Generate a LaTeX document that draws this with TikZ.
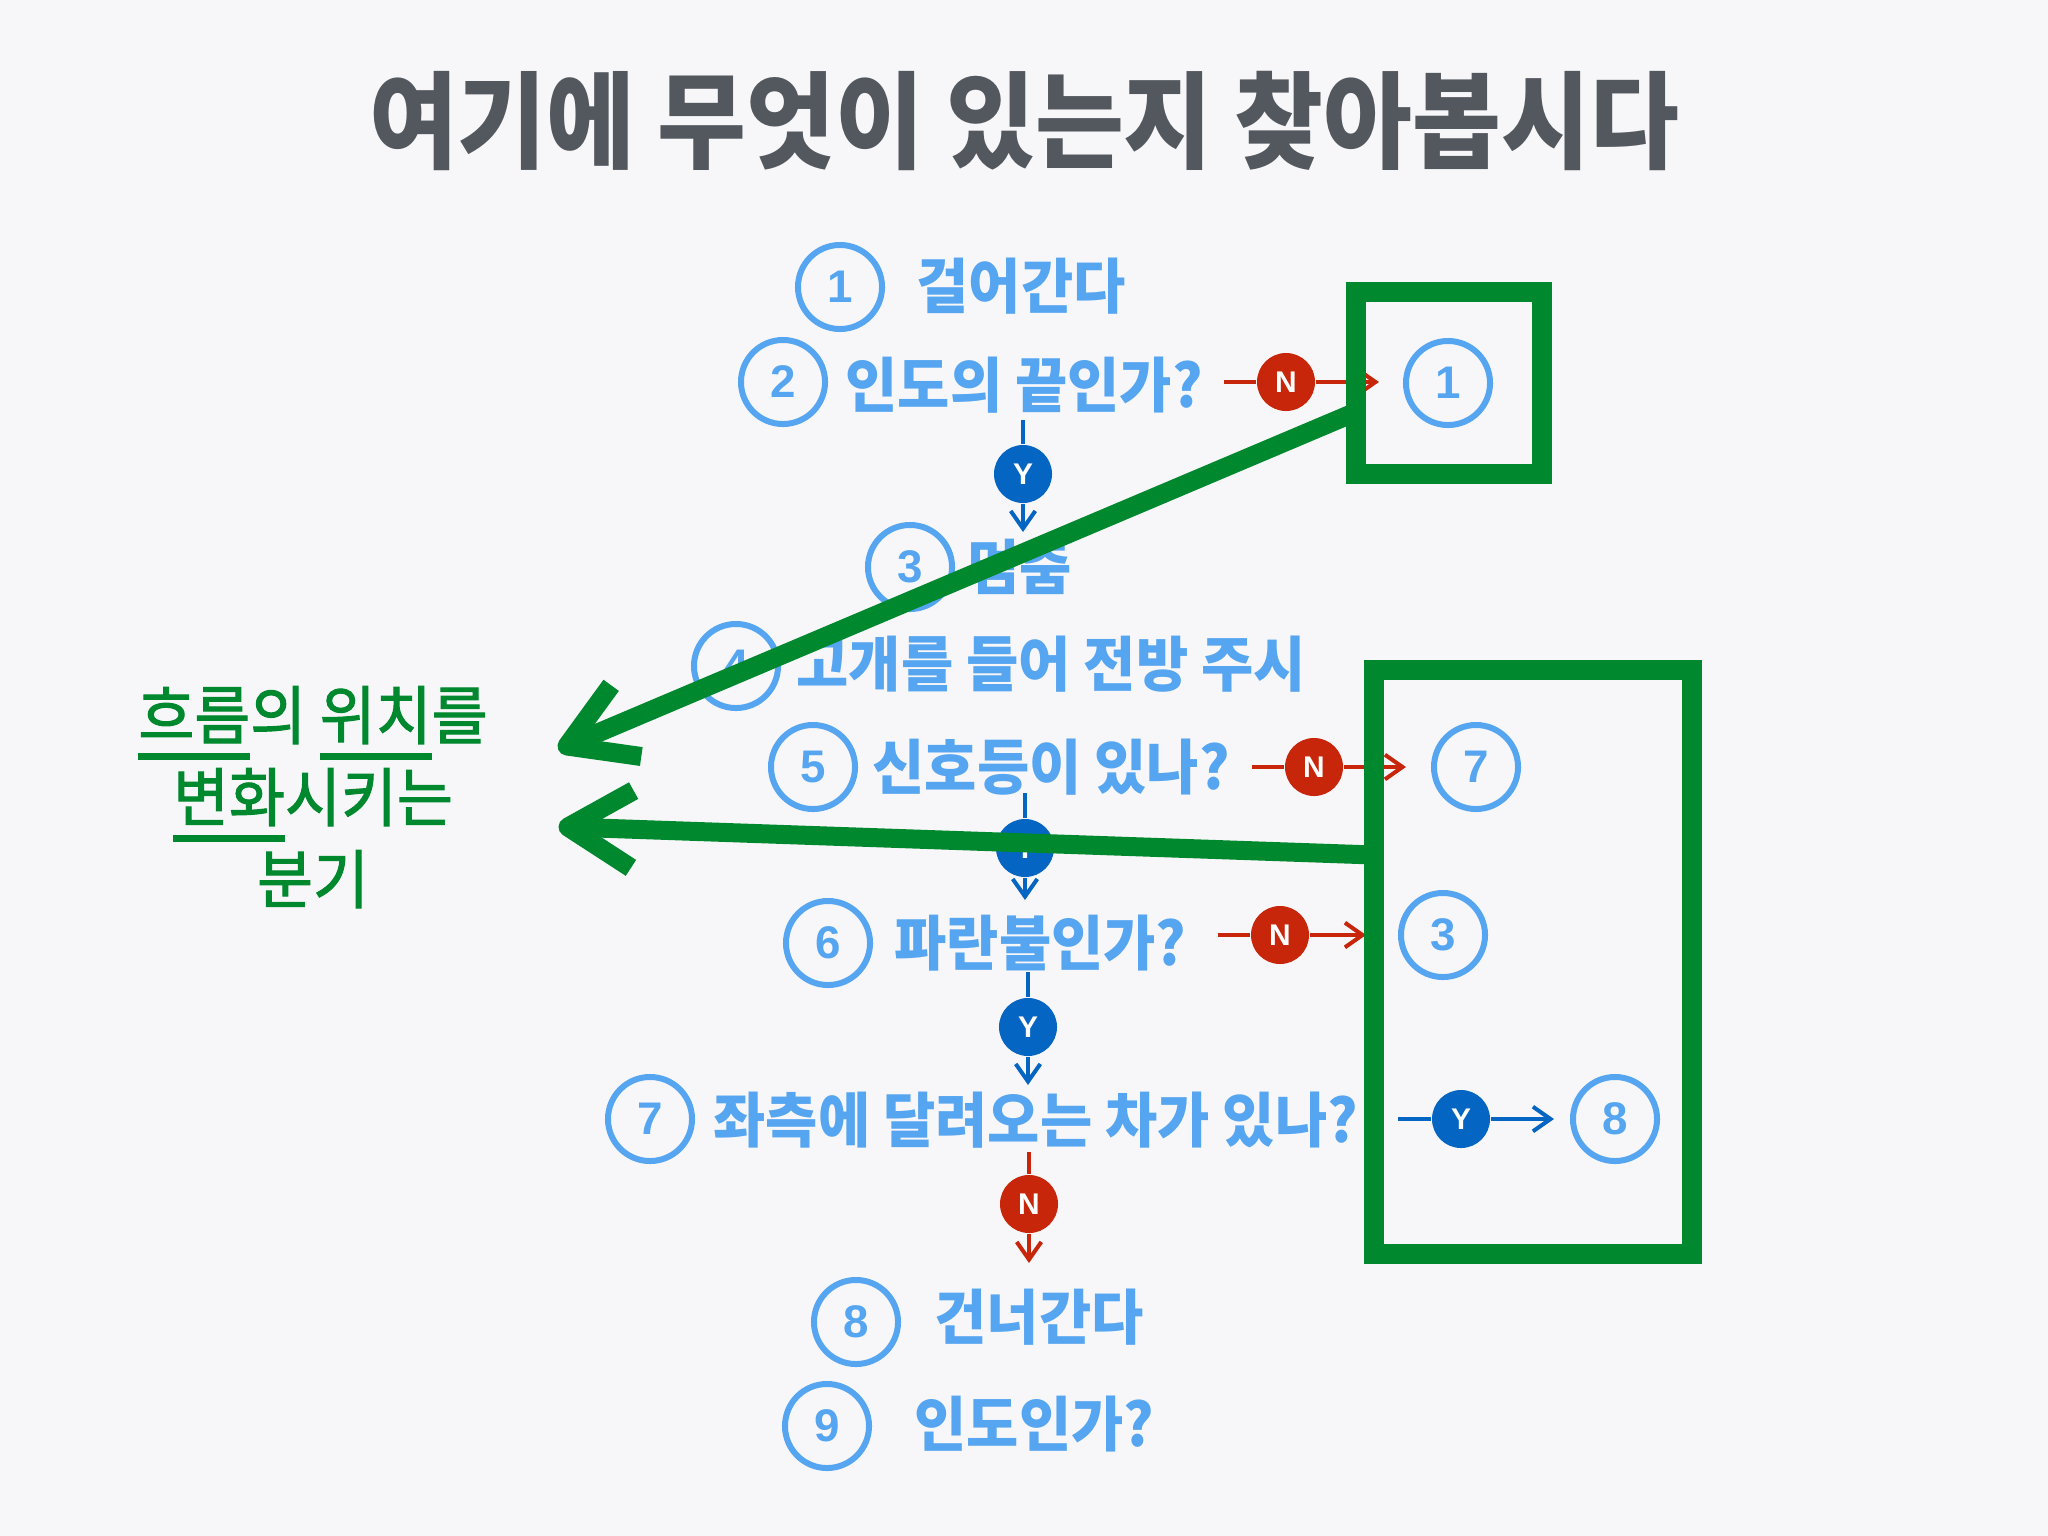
\documentclass[tikz,border=0pt]{standalone}
\usepackage{fontspec}
\usetikzlibrary{arrows.meta,calc}
\newfontfamily\krfont[FakeStretch=0.95]{Noto Sans CJK KR}
\newfontfamily\krtitle[FakeStretch=0.915]{Noto Sans CJK KR}
\newfontfamily\krgreen[FakeStretch=0.95,FakeBold=1.6]{Noto Sans CJK KR}
\newfontfamily\numfont{Liberation Sans}
\definecolor{bgc}{HTML}{F7F7F9}
\definecolor{lblue}{HTML}{56A5F0}
\definecolor{nred}{HTML}{C8260A}
\definecolor{ydark}{HTML}{0565C2}
\definecolor{ggreen}{HTML}{00882E}
\definecolor{tgray}{HTML}{53585E}
\newsavebox\gulbox
\newcommand\gul[1]{\sbox\gulbox{#1}\rlap{\rule[-0.335em]{\wd\gulbox}{0.11em}}\usebox\gulbox}
\begin{document}
\begin{tikzpicture}[x=0.01cm,y=-0.01cm,
  titlest/.style={anchor=base, inner sep=0pt, text=tgray, font=\krtitle\bfseries\fontsize{30}{34}\selectfont},
  itemst/.style={anchor=base west, inner sep=0pt, text=lblue, font=\krfont\bfseries\fontsize{17}{20}\selectfont},
  greenst/.style={anchor=base, inner sep=0pt, text=ggreen, font=\krgreen\fontsize{18.2}{22}\selectfont},
  num/.style={circle, draw=lblue, line width=0.06cm, minimum size=0.84cm, inner sep=0pt, text=lblue, font=\numfont\bfseries\fontsize{13}{14}\selectfont},
  yn/.style={circle, fill=#1, minimum size=0.58cm, inner sep=0pt, text=white, font=\numfont\bfseries\fontsize{8.5}{9}\selectfont},
  conn/.style={line width=0.04cm, draw=#1},
  tipst/.style={-{Straight Barb[length=5pt,width=7pt]}},
  gbox/.style={draw=ggreen, line width=0.2cm, rectangle, inner sep=0pt, outer sep=0pt},
  garrow/.style={draw=ggreen, line width=0.19cm},
  ghead/.style={draw=ggreen, line width=0.19cm, line join=round}
]
\fill[bgc] (0,0) rectangle (2048,1536);
\useasboundingbox (0,0) rectangle (2048,1536);

\node[titlest] (title) at (1024,160) {여기에 무엇이 있는지 찾아봅시다};

% steps
\node[num] (c1) at (840,287) {1};
\node[itemst] (t1) at (916,308) {걸어간다};
\node[num] (c2) at (783,382) {2};
\node[itemst] (t2) at (845,407) {인도의 끝인가?};
\node[num] (c3) at (910,567) {3};
\node[itemst] (t3) at (967,589) {멈춤};
\node[num] (c4) at (736,666) {4};
\node[itemst] (t4) at (796,686) {고개를 들어 전방 주시};
\node[num] (c5) at (813,767) {5};
\node[itemst] (t5) at (872,789) {신호등이 있나?};
\node[num] (c6) at (828,943) {6};
\node[itemst] (t6) at (894,965) {파란불인가?};
\node[num] (c7) at (650,1119) {7};
\node[itemst] (t7) at (713,1142) {좌측에 달려오는 차가 있나?};
\node[num] (c8) at (856,1322) {8};
\node[itemst] (t8) at (934,1339) {건너간다};
\node[num] (c9) at (827,1426) {9};
\node[itemst] (t9) at (914,1446) {인도인가?};

% targets inside boxes
\node[num] (b1) at (1448,383) {1};
\node[num] (b7) at (1476,767) {7};
\node[num] (b3) at (1443,935) {3};
\node[num] (b8) at (1615,1119) {8};

% Y / N branches
\node[yn=nred] (n2) at (1286,382) {N};
\coordinate (n2a) at (1224,382); \coordinate (n2b) at (1379,382);
\draw[conn=nred] (n2a) -- (n2);
\draw[conn=nred,tipst] (n2) -- (n2b);

\node[yn=ydark] (y2) at (1023,474) {Y};
\coordinate (y2a) at (1023,420); \coordinate (y2b) at (1023,532);
\draw[conn=ydark] (y2a) -- (y2);
\draw[conn=ydark,tipst] (y2) -- (y2b);

\node[yn=nred] (n5) at (1314,767) {N};
\coordinate (n5a) at (1252,767); \coordinate (n5b) at (1406,767);
\draw[conn=nred] (n5a) -- (n5);
\draw[conn=nred,tipst] (n5) -- (n5b);

\node[yn=ydark] (y5) at (1025,848) {Y};
\coordinate (y5a) at (1025,793); \coordinate (y5b) at (1025,900);
\draw[conn=ydark] (y5a) -- (y5);
\draw[conn=ydark,tipst] (y5) -- (y5b);

\node[yn=nred] (n6) at (1280,935) {N};
\coordinate (n6a) at (1218,935); \coordinate (n6b) at (1366,935);
\draw[conn=nred] (n6a) -- (n6);
\draw[conn=nred,tipst] (n6) -- (n6b);

\node[yn=ydark] (y6) at (1028,1027) {Y};
\coordinate (y6a) at (1028,972); \coordinate (y6b) at (1028,1085);
\draw[conn=ydark] (y6a) -- (y6);
\draw[conn=ydark,tipst] (y6) -- (y6b);

\node[yn=ydark] (y7) at (1461,1119) {Y};
\coordinate (y7a) at (1398,1119); \coordinate (y7b) at (1554,1119);
\draw[conn=ydark] (y7a) -- (y7);
\draw[conn=ydark,tipst] (y7) -- (y7b);

\node[yn=nred] (n7) at (1029,1204) {N};
\coordinate (n7a) at (1029,1152); \coordinate (n7b) at (1029,1263);
\draw[conn=nred] (n7a) -- (n7);
\draw[conn=nred,tipst] (n7) -- (n7b);

% green boxes
\node[gbox, minimum width=1.86cm, minimum height=1.82cm] (box1) at (1449,383) {};
\node[gbox, minimum width=3.18cm, minimum height=5.84cm] (box2) at (1533,962) {};

% green label
\node[greenst] (g1) at (313,739) {\gul{흐름}의 \gul{위치}를};
\node[greenst] (g2) at (313,821) {\gul{변화}시키는};
\node[greenst] (g3) at (313,903) {분기};

% green arrows
\coordinate (sa) at ($(box1.west)+(0,29)$);
\coordinate (ta) at (567,746);
\draw[garrow] (sa) -- (ta);
\draw[ghead] ($(ta)!0.75cm!31:(sa)$) -- (ta) -- ($(ta)!0.75cm!-31:(sa)$);

\coordinate (sb) at ($(box2.west)+(0,-107)$);
\coordinate (tb) at (568,827);
\draw[garrow] (sb) -- (tb);
\draw[ghead] ($(tb)!0.75cm!31:(sb)$) -- (tb) -- ($(tb)!0.75cm!-31:(sb)$);
\end{tikzpicture}
\end{document}
